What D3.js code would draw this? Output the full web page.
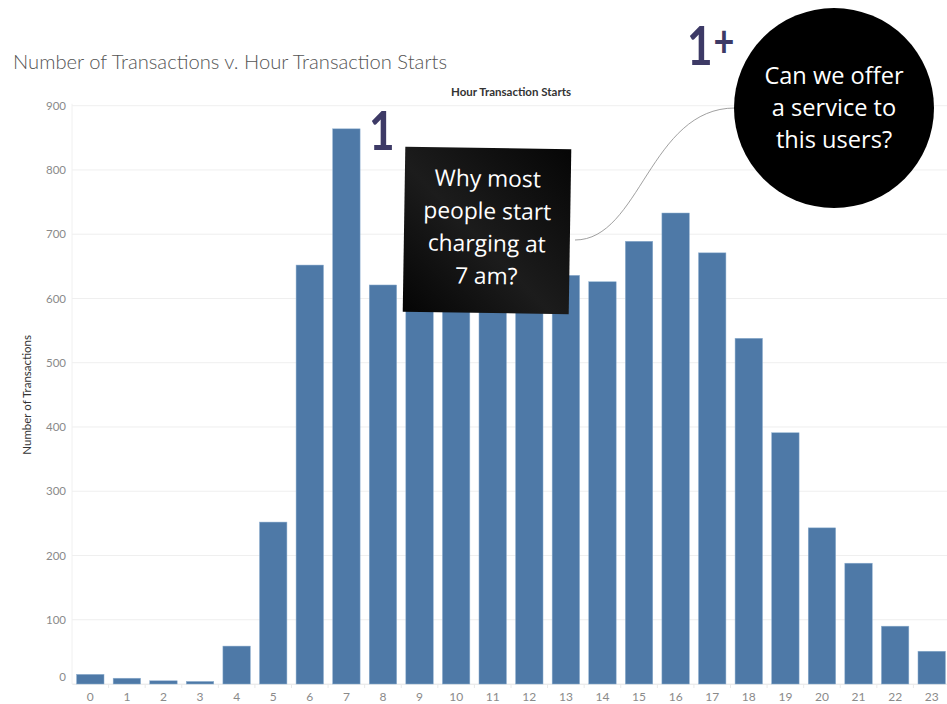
<!DOCTYPE html>
<html>
<head>
<meta charset="utf-8">
<script src="https://cdn.jsdelivr.net/npm/d3@7"></script>
<style>
  body { margin: 0; background: #fff; }
  text { font-family: Lato, "Open Sans", sans-serif; }
</style>
</head>
<body>
<div id="chart"></div>
<script>
// hours 0-23 and number of transactions starting in each hour
const hours = d3.range(0, 24).map(String);
const transactions = [15, 9, 5, 4, 59, 252, 652, 864, 621, 600, 612, 608, 630,
    636, 626, 689, 733, 671, 538, 391, 243, 188, 90, 51];
const yTicks = [0, 100, 200, 300, 400, 500, 600, 700, 800, 900];

const W = 947, H = 704;
const plot = { left: 72, right: 950, top: 105.7, bottom: 684 };

const svg = d3.select("#chart")
    .append("svg")
    .attr("width", W)
    .attr("height", H);

const xScale = d3.scaleBand()
    .domain(hours)
    .range([plot.left, plot.right])
    .paddingInner(0.25)
    .paddingOuter(0.125);

const yScale = d3.scaleLinear()
    .domain([0, 900])
    .range([plot.bottom, plot.top]);

// gridlines
svg.append("g")
    .attr("class", "grid")
    .selectAll("line")
    .data(yTicks)
    .enter()
    .append("line")
    .attr("x1", plot.left)
    .attr("x2", W)
    .attr("y1", d => yScale(d))
    .attr("y2", d => yScale(d))
    .attr("stroke", "#efefef")
    .attr("stroke-width", 1);

svg.append("line")
    .attr("x1", plot.left).attr("x2", plot.left)
    .attr("y1", plot.top - 2).attr("y2", plot.bottom)
    .attr("stroke", "#f0f0f0");

// y axis
const yAxis = d3.axisLeft(yScale)
    .tickValues(yTicks)
    .tickSize(0)
    .tickPadding(6);

const yAxisDraw = svg.append("g")
    .attr("class", "y axis")
    .attr("transform", `translate(${plot.left}, 0)`)
    .call(yAxis);
yAxisDraw.select(".domain").remove();
yAxisDraw.selectAll("text")
    .attr("fill", "#8a8a8a")
    .style("font-size", "11.5px")
    .attr("dy", d => d === 0 ? "-0.3em" : "0.32em");

// x axis
const xAxis = d3.axisBottom(xScale)
    .tickSize(0)
    .tickPadding(8);

const xAxisDraw = svg.append("g")
    .attr("class", "x axis")
    .attr("transform", `translate(0, ${plot.bottom})`)
    .call(xAxis);
xAxisDraw.select(".domain")
    .attr("stroke", "#ececec");
xAxisDraw.selectAll("text")
    .attr("fill", "#8a8a8a")
    .style("font-size", "12px");

// small separators between hours on the baseline
svg.append("g")
    .selectAll("line")
    .data(hours.slice(1))
    .enter()
    .append("line")
    .attr("x1", d => xScale(d) - xScale.step() * xScale.paddingInner() / 2)
    .attr("x2", d => xScale(d) - xScale.step() * xScale.paddingInner() / 2)
    .attr("y1", plot.bottom)
    .attr("y2", plot.bottom + 4)
    .attr("stroke", "#eaeaea");

// bars
svg.append("g")
    .attr("class", "bars")
    .selectAll("rect")
    .data(transactions)
    .enter()
    .append("rect")
    .attr("x", (d, i) => xScale(hours[i]))
    .attr("y", d => yScale(d))
    .attr("width", xScale.bandwidth())
    .attr("height", d => plot.bottom - yScale(d))
    .attr("fill", "#4e79a7")
    .attr("stroke", "#8fb0d0")
    .attr("stroke-width", 0.5);

// titles
svg.append("text")
    .attr("x", 13)
    .attr("y", 69)
    .attr("fill", "#555")
    .style("font-size", "20.2px")
    .style("font-weight", 300)
    .text("Number of Transactions v. Hour Transaction Starts");

svg.append("text")
    .attr("x", 511)
    .attr("y", 96)
    .attr("text-anchor", "middle")
    .attr("fill", "#333")
    .style("font-size", "11.5px")
    .style("font-weight", "bold")
    .text("Hour Transaction Starts");

svg.append("text")
    .attr("transform", `translate(31, ${(plot.top + plot.bottom) / 2}) rotate(-90)`)
    .attr("text-anchor", "middle")
    .attr("fill", "#333")
    .style("font-size", "11.5px")
    .text("Number of Transactions");

// annotation: curved connector
svg.append("path")
    .attr("d", "M 575 240 C 640 240, 650 108, 735 108")
    .attr("fill", "none")
    .attr("stroke", "#888")
    .attr("stroke-width", 0.8);

// black note box
const note = svg.append("g")
    .attr("transform", "translate(487, 231) rotate(0.9)");

const grad = svg.append("defs").append("linearGradient")
    .attr("id", "noteGrad")
    .attr("x1", "0").attr("y1", "1").attr("x2", "1").attr("y2", "0");
grad.append("stop").attr("offset", "0%").attr("stop-color", "#050505");
grad.append("stop").attr("offset", "45%").attr("stop-color", "#1c1c1c");
grad.append("stop").attr("offset", "100%").attr("stop-color", "#060606");

note.append("rect")
    .attr("x", -83).attr("y", -83)
    .attr("width", 166).attr("height", 165)
    .attr("fill", "url(#noteGrad)");

const noteLines = ["Why most", "people start", "charging at", "7 am?"];
note.selectAll("text")
    .data(noteLines)
    .enter()
    .append("text")
    .attr("x", 0)
    .attr("y", (d, i) => -53 + i * 32.5)
    .attr("text-anchor", "middle")
    .attr("dominant-baseline", "central")
    .attr("fill", "#fff")
    .style("font-family", "'Open Sans', sans-serif")
    .style("font-size", "22.8px")
    .text(d => d);

// black circle
svg.append("circle")
    .attr("cx", 834)
    .attr("cy", 108)
    .attr("r", 100)
    .attr("fill", "#000");

const circleLines = ["Can we offer", "a service to", "this users?"];
svg.append("g")
    .selectAll("text")
    .data(circleLines)
    .enter()
    .append("text")
    .attr("x", 834)
    .attr("y", (d, i) => 75 + i * 32)
    .attr("text-anchor", "middle")
    .attr("dominant-baseline", "central")
    .attr("fill", "#fff")
    .style("font-family", "'Open Sans', sans-serif")
    .style("font-size", "23.6px")
    .text(d => d);

// big numerals
svg.append("text")
    .attr("transform", "translate(369, 150) scale(0.82, 1)")
    .attr("fill", "#3d3a66")
    .style("font-size", "54px")
    .style("font-weight", "bold")
    .text("1");

const onePlus = svg.append("text")
    .attr("transform", "translate(687, 65) scale(0.82, 1)")
    .attr("fill", "#3d3a66")
    .style("font-size", "54px")
    .style("font-weight", "bold");
onePlus.append("tspan").text("1");
onePlus.append("tspan")
    .attr("dx", 1)
    .attr("dy", -8)
    .style("font-size", "44px")
    .text("+");
</script>
</body>
</html>
